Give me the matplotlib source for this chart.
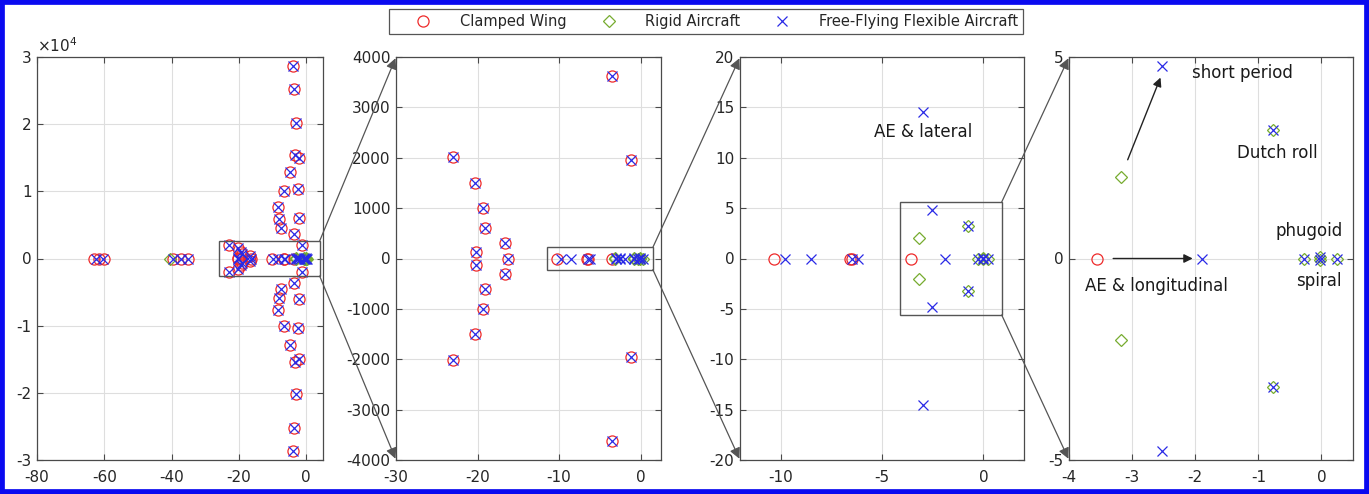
import matplotlib
matplotlib.use('Agg')
import matplotlib.pyplot as plt
from matplotlib.patches import Rectangle, ConnectionPatch
from matplotlib.lines import Line2D

# ---------------- data (eigenvalues: real part, imaginary part) ----------------
cw_re = [-3.95, -3.95, -3.56, -3.56, -2.96, -2.96, -3.2, -3.2, -2.0, -2.0,
         -4.74, -4.74, -6.6, -6.6, -2.5, -2.5, -8.4, -8.4, -8.1, -8.1,
         -7.4, -7.4, -2.0, -2.0, -3.5, -3.5, -1.22, -1.22, -23.0, -23.0,
         -20.3, -20.3, -19.3, -19.3, -19.1, -19.1, -16.6, -16.6, -20.2, -20.2,
         -63.0, -61.5, -60.2, -39.6, -37.3, -35.1, -16.3, -10.3, -6.6, -6.5, -3.56]
cw_im = [28730, -28730, 25200, -25200, 20100, -20100, 15400, -15400, 15000, -15000,
         12900, -12900, 10000, -10000, 10300, -10300, 7700, -7700, 5900, -5900,
         4550, -4550, 6000, -6000, 3630, -3630, 1950, -1950, 2020, -2020,
         1500, -1500, 1000, -1000, 610, -610, 310, -310, 120, -120,
         0, 0, 0, 0, 0, 0, 0, 0, 0, 0, 0]

ra_re = [-40.5, -3.17, -3.17, -0.76, -0.76, -0.28, -0.02, -0.02, 0.24]
ra_im = [0, 2.02, -2.02, 3.2, -3.2, 0, 0.04, -0.04, 0]

ff_re = [-3.95, -3.95, -3.56, -3.56, -2.96, -2.96, -3.2, -3.2, -2.0, -2.0,
         -4.74, -4.74, -6.6, -6.6, -2.5, -2.5, -8.4, -8.4, -8.1, -8.1,
         -7.4, -7.4, -2.0, -2.0, -3.5, -3.5, -1.22, -1.22, -23.0, -23.0,
         -20.3, -20.3, -19.3, -19.3, -19.1, -19.1, -16.6, -16.6, -20.2, -20.2,
         -62.5, -60.5, -39.6, -37.3, -35.1, -16.3, -9.8, -8.5, -6.5, -6.2,
         -3.0, -3.0, -2.52, -2.52, -1.885, -0.76, -0.76, -0.28, -0.02, -0.02, 0.24]
ff_im = [28730, -28730, 25200, -25200, 20100, -20100, 15400, -15400, 15000, -15000,
         12900, -12900, 10000, -10000, 10300, -10300, 7700, -7700, 5900, -5900,
         4550, -4550, 6000, -6000, 3630, -3630, 1950, -1950, 2020, -2020,
         1500, -1500, 1000, -1000, 610, -610, 310, -310, 120, -120,
         0, 0, 0, 0, 0, 0, 0, 0, 0, 0,
         14.5, -14.5, 4.78, -4.78, 0, 3.19, -3.19, 0, 0.04, -0.04, 0]

series_labels = ['Clamped Wing', 'Rigid Aircraft', 'Free-Flying Flexible Aircraft']

x_limits = [(-80, 5), (-30, 2.5), (-12, 2), (-4, 0.5)]
y_limits = [(-30000, 30000), (-4000, 4000), (-20, 20), (-5, 5)]
x_ticks = [[-80, -60, -40, -20, 0], [-30, -20, -10, 0], [-10, -5, 0], [-4, -3, -2, -1, 0]]
y_ticks = [[-30000, -20000, -10000, 0, 10000, 20000, 30000],
           [-4000, -3000, -2000, -1000, 0, 1000, 2000, 3000, 4000],
           [-20, -15, -10, -5, 0, 5, 10, 15, 20],
           [-5, 0, 5]]
y1_ticklabels = ['-3', '-2', '-1', '0', '1', '2', '3']

# zoom boxes (x0, y0, x1, y1) drawn in panels 1-3
zoom_boxes = [(-26, -2600, 4, 2600), (-11.5, -220, 1.5, 220), (-4.1, -5.6, 0.9, 5.6)]

# ---------------- styling ----------------
plt.rcParams['font.family'] = ['DejaVu Sans']
plt.rcParams['axes.unicode_minus'] = False

W, H = 1369, 494
fig = plt.figure(figsize=(W / 100, H / 100), dpi=100)
fig.patch.set_facecolor('white')

red = '#EE2A2A'
green = '#77AC30'
blue = '#2A2AE6'
frame_col = '#4A4A4A'
txt_col = '#262626'

panels_px = [(37, 323), (396, 661), (740, 1024), (1069, 1353)]
top_px, bot_px = 57, 460

axes = []
for i, (l, r) in enumerate(panels_px):
    ax = fig.add_axes([l / W, (H - bot_px) / H, (r - l) / W, (bot_px - top_px) / H])
    ax.plot(cw_re, cw_im, linestyle='none', marker='o', markersize=8,
            markerfacecolor='none', markeredgecolor=red, markeredgewidth=0.9, zorder=3)
    ax.plot(ra_re, ra_im, linestyle='none', marker='D', markersize=6,
            markerfacecolor='none', markeredgecolor=green, markeredgewidth=0.9, zorder=4)
    ax.plot(ff_re, ff_im, linestyle='none', marker='x', markersize=6.5,
            markeredgecolor=blue, markeredgewidth=0.9, zorder=5)
    ax.set_xlim(*x_limits[i])
    ax.set_ylim(*y_limits[i])
    ax.set_xticks(x_ticks[i])
    ax.set_yticks(y_ticks[i])
    ax.grid(True, color='#DEDEDE', linewidth=0.8)
    ax.set_axisbelow(True)
    ax.tick_params(direction='in', top=True, right=True, length=4, width=0.8,
                   color=frame_col, labelsize=11, labelcolor=txt_col, pad=4)
    ax.tick_params(axis='x', pad=7)
    for s in ax.spines.values():
        s.set_color(frame_col)
        s.set_linewidth(0.9)
    axes.append(ax)

axes[0].set_yticklabels(y1_ticklabels)
axes[0].text(0.0, 1.005, r'$\times10^{4}$', transform=axes[0].transAxes,
             ha='left', va='bottom', fontsize=11, color=txt_col)

# zoom boxes and connectors
for i, (x0, y0, x1, y1) in enumerate(zoom_boxes):
    axes[i].add_patch(Rectangle((x0, y0), x1 - x0, y1 - y0, fill=False,
                                edgecolor='#555555', linewidth=1.0, zorder=6))
    nxt = axes[i + 1]
    for ya, yb in ((y1, y_limits[i + 1][1]), (y0, y_limits[i + 1][0])):
        con = ConnectionPatch(xyA=(x1, ya), coordsA=axes[i].transData,
                              xyB=(x_limits[i + 1][0], yb), coordsB=nxt.transData,
                              arrowstyle='-|>', mutation_scale=16, color='#555555',
                              linewidth=0.9, shrinkA=0, shrinkB=1)
        fig.add_artist(con)

# annotations
ann_kw = dict(fontsize=12, color='#1A1A1A', ha='center', va='center')
axes[2].text(-2.96, 12.56, 'AE & lateral', **ann_kw)
ax4 = axes[3]
ax4.text(-1.25, 4.61, 'short period', **ann_kw)
ax4.text(-0.70, 2.62, 'Dutch roll', **ann_kw)
ax4.text(-0.20, 0.68, 'phugoid', **ann_kw)
ax4.text(-2.62, -0.69, 'AE & longitudinal', **ann_kw)
ax4.text(-0.04, -0.55, 'spiral', **ann_kw)
ax4.annotate('', xy=(-2.55, 4.49), xytext=(-3.07, 2.45),
             arrowprops=dict(arrowstyle='-|>', color='#222222', lw=1.0, mutation_scale=13,
                             shrinkA=0, shrinkB=0))
ax4.annotate('', xy=(-2.04, 0), xytext=(-3.30, 0),
             arrowprops=dict(arrowstyle='-|>', color='#222222', lw=1.0, mutation_scale=13,
                             shrinkA=0, shrinkB=0))

# legend
handles = [
    Line2D([], [], linestyle='none', marker='o', markersize=8, markerfacecolor='none',
           markeredgecolor=red, markeredgewidth=0.9),
    Line2D([], [], linestyle='none', marker='D', markersize=6, markerfacecolor='none',
           markeredgecolor=green, markeredgewidth=0.9),
    Line2D([], [], linestyle='none', marker='x', markersize=6.5,
           markeredgecolor=blue, markeredgewidth=0.9),
]
leg = fig.legend(handles, series_labels, loc='upper center',
                 bbox_to_anchor=(706 / W, 1 - 9 / H), ncol=3, frameon=True,
                 fancybox=False, edgecolor='#555555', framealpha=1, fontsize=10.5,
                 handlelength=4.0, handletextpad=0.5, columnspacing=0.9,
                 borderpad=0.35, borderaxespad=0)
leg.get_frame().set_linewidth(0.9)
for t in leg.get_texts():
    t.set_color(txt_col)

# blue outer border
fig.add_artist(Rectangle((0, 0), 1, 1, transform=fig.transFigure, fill=False,
                         edgecolor='#0A0AF0', linewidth=7, zorder=10))

fig.savefig('out.png', dpi=100)
